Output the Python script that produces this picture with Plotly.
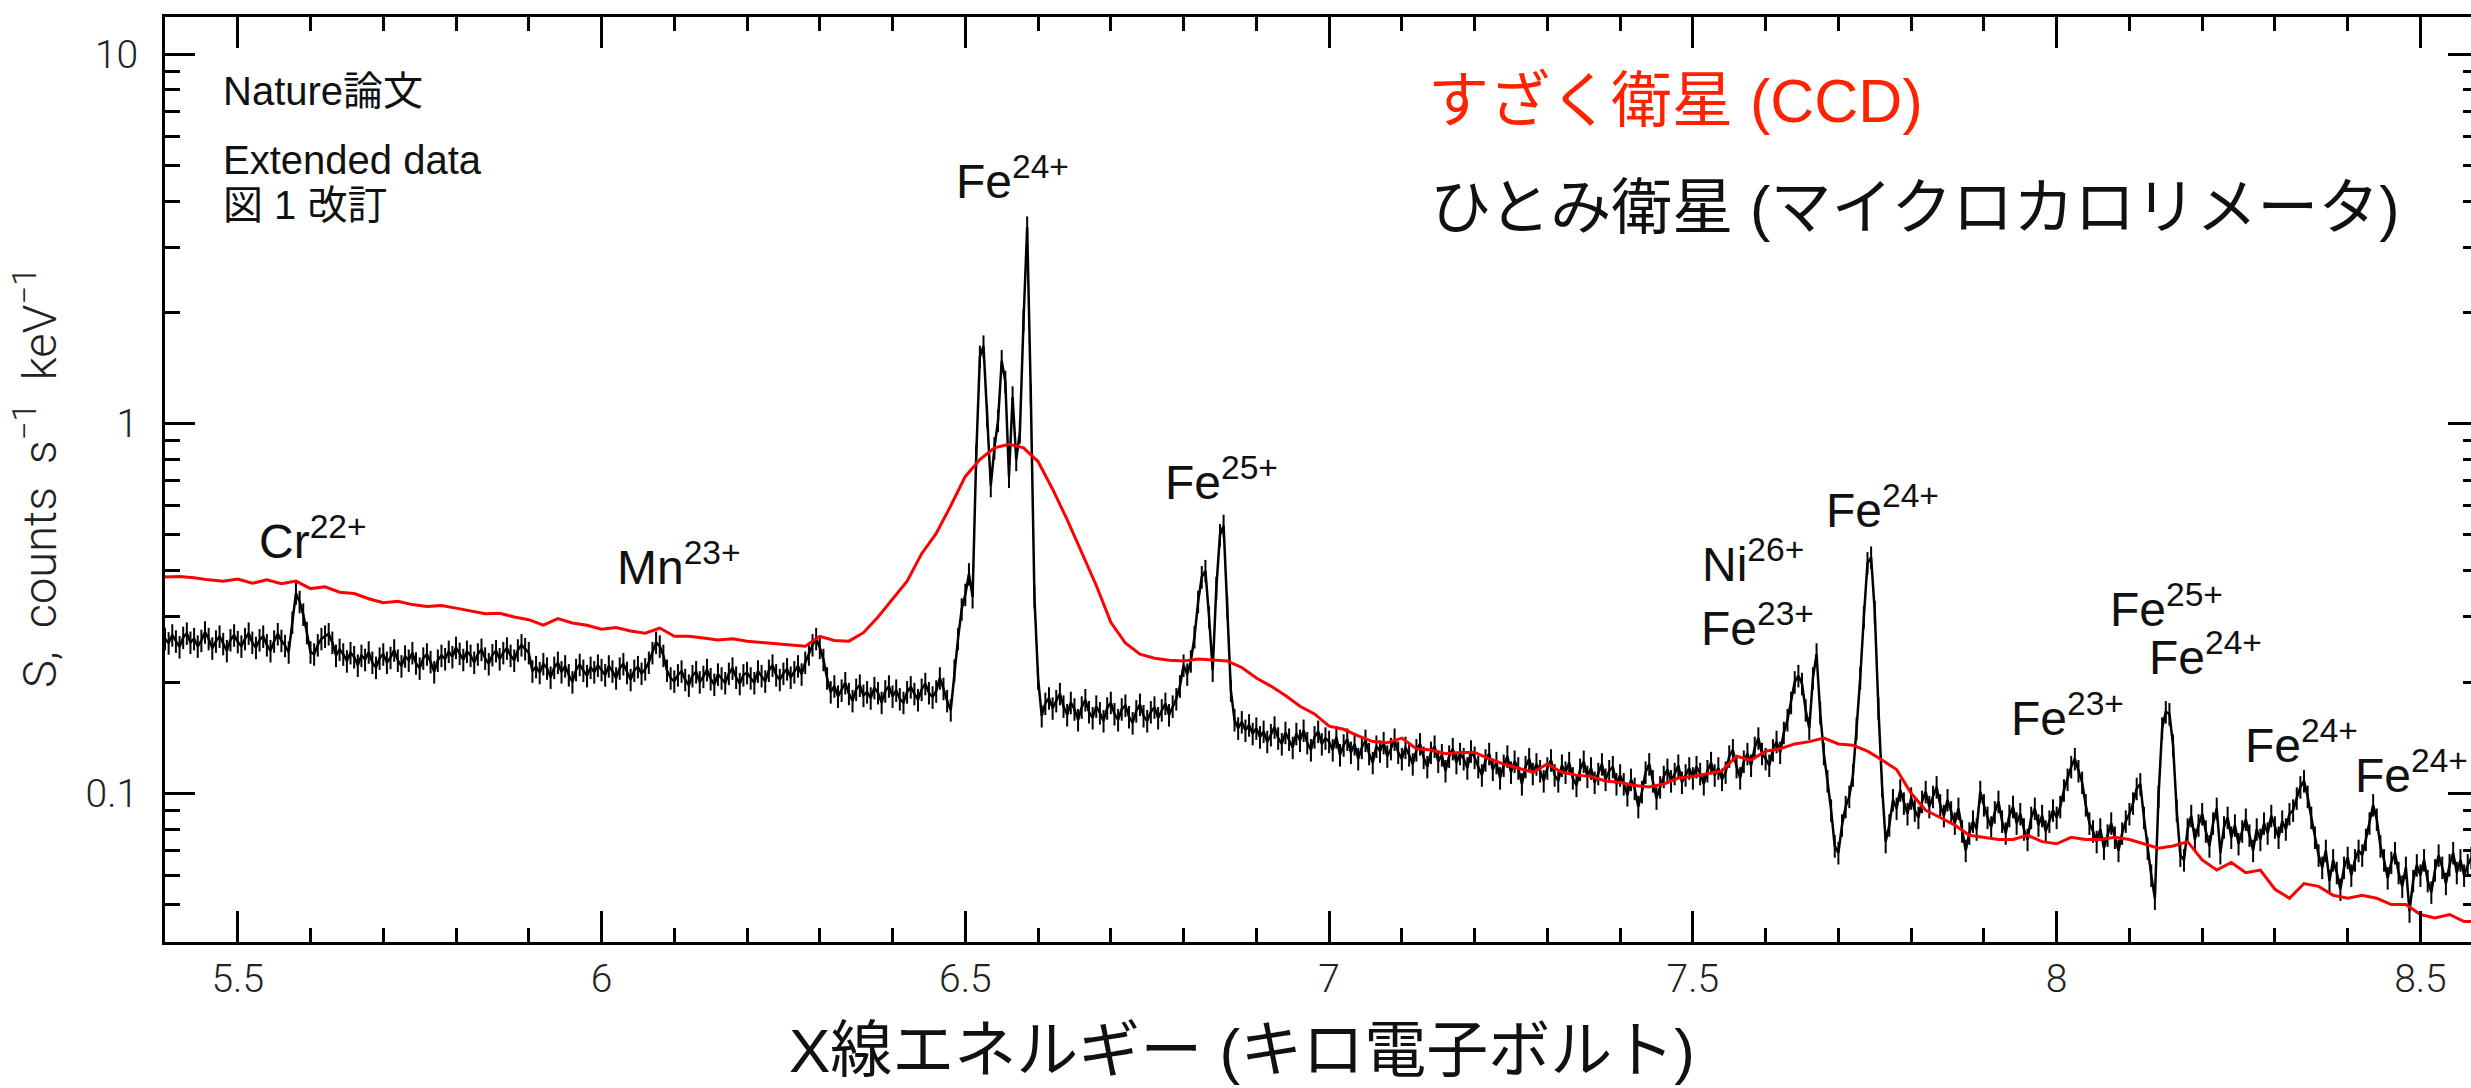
import math
import numpy as np
import plotly.graph_objects as go

# ---------------- data ----------------
# Hitomi (SXS microcalorimeter) spectrum, 5 eV bins starting at 5.400 keV
HITOMI_START, HITOMI_STEP = 5.400, 0.005
hitomi_5p4_6p2 = [
    0.262, 0.255, 0.268, 0.258, 0.249, 0.264, 0.271, 0.256, 0.262, 0.250, 0.259, 0.273, 0.262, 0.247, 0.258, 0.266, 0.254, 0.243, 0.260, 0.268,
    0.257, 0.250, 0.262, 0.271, 0.256, 0.248, 0.260, 0.266, 0.252, 0.243, 0.258, 0.270, 0.259, 0.251, 0.241, 0.290, 0.348, 0.330, 0.305, 0.272,
    0.241, 0.238, 0.252, 0.262, 0.266, 0.270, 0.256, 0.236, 0.245, 0.238, 0.228, 0.240, 0.234, 0.222, 0.236, 0.230, 0.241, 0.226, 0.219, 0.232,
    0.238, 0.226, 0.233, 0.244, 0.229, 0.221, 0.235, 0.229, 0.240, 0.225, 0.218, 0.232, 0.238, 0.227, 0.213, 0.229, 0.236, 0.231, 0.242, 0.234,
    0.248, 0.239, 0.230, 0.242, 0.236, 0.226, 0.238, 0.245, 0.232, 0.224, 0.237, 0.243, 0.231, 0.240, 0.247, 0.236, 0.229, 0.244, 0.252, 0.246,
    0.240, 0.214, 0.220, 0.212, 0.224, 0.218, 0.206, 0.219, 0.226, 0.213, 0.221, 0.209, 0.200, 0.216, 0.223, 0.215, 0.208, 0.219, 0.213, 0.222,
    0.216, 0.209, 0.221, 0.214, 0.205, 0.218, 0.224, 0.212, 0.203, 0.215, 0.220, 0.211, 0.217, 0.226, 0.240, 0.256, 0.250, 0.236, 0.215, 0.205,
    0.201, 0.209, 0.214, 0.203, 0.196, 0.208, 0.213, 0.200, 0.207, 0.216, 0.204, 0.197, 0.210, 0.205, 0.199, 0.211, 0.218, 0.206, 0.198, 0.209,
]
hitomi_6p2_7p0 = [
    0.212, 0.205, 0.199, 0.214, 0.208, 0.201, 0.215, 0.222, 0.209, 0.203, 0.211, 0.217, 0.206, 0.213, 0.221, 0.210, 0.226, 0.238, 0.252, 0.262,
    0.248, 0.230, 0.205, 0.188, 0.195, 0.183, 0.190, 0.199, 0.186, 0.178, 0.191, 0.196, 0.184, 0.188, 0.181, 0.193, 0.187, 0.176, 0.189, 0.195,
    0.183, 0.190, 0.180, 0.176, 0.188, 0.194, 0.186, 0.179, 0.191, 0.198, 0.187, 0.182, 0.189, 0.205, 0.192, 0.178, 0.168, 0.215, 0.262, 0.315,
    0.345, 0.392, 0.340, 0.820, 1.520, 1.620, 1.050, 0.680, 0.860, 1.020, 1.480, 1.300, 0.720, 1.180, 0.800, 0.950, 1.900, 3.400, 1.200, 0.340,
    0.205, 0.162, 0.175, 0.181, 0.170, 0.178, 0.186, 0.172, 0.163, 0.176, 0.169, 0.158, 0.171, 0.179, 0.166, 0.160, 0.172, 0.165, 0.157, 0.170,
    0.176, 0.164, 0.158, 0.169, 0.173, 0.161, 0.155, 0.167, 0.174, 0.162, 0.157, 0.166, 0.171, 0.160, 0.168, 0.175, 0.163, 0.172, 0.180, 0.195,
    0.222, 0.210, 0.228, 0.265, 0.330, 0.385, 0.400, 0.300, 0.215, 0.360, 0.500, 0.530, 0.320, 0.190, 0.158, 0.150, 0.156, 0.148, 0.153, 0.145,
    0.150, 0.142, 0.147, 0.138, 0.144, 0.151, 0.141, 0.136, 0.146, 0.140, 0.133, 0.145, 0.139, 0.148, 0.137, 0.131, 0.142, 0.147, 0.136, 0.141,
]
hitomi_7p0_7p8 = [
    0.138, 0.131, 0.142, 0.127, 0.135, 0.140, 0.129, 0.136, 0.124, 0.133, 0.139, 0.128, 0.121, 0.134, 0.130, 0.137, 0.126, 0.132, 0.140, 0.129,
    0.124, 0.133, 0.127, 0.120, 0.131, 0.136, 0.125, 0.118, 0.129, 0.134, 0.122, 0.127, 0.115, 0.126, 0.132, 0.121, 0.128, 0.124, 0.117, 0.130,
    0.125, 0.118, 0.112, 0.123, 0.128, 0.116, 0.121, 0.110, 0.119, 0.126, 0.114, 0.122, 0.117, 0.106, 0.118, 0.124, 0.113, 0.120, 0.115, 0.108,
    0.117, 0.123, 0.112, 0.108, 0.119, 0.114, 0.121, 0.110, 0.105, 0.116, 0.122, 0.111, 0.117, 0.107, 0.113, 0.120, 0.109, 0.115, 0.118, 0.106,
    0.112, 0.106, 0.099, 0.109, 0.103, 0.092, 0.101, 0.114, 0.120, 0.108, 0.097, 0.104, 0.111, 0.116, 0.108, 0.113, 0.119, 0.107, 0.112, 0.117,
    0.110, 0.118, 0.113, 0.106, 0.115, 0.121, 0.112, 0.117, 0.109, 0.114, 0.126, 0.131, 0.118, 0.110, 0.122, 0.128, 0.119, 0.133, 0.141, 0.128,
    0.124, 0.119, 0.131, 0.138, 0.129, 0.146, 0.158, 0.176, 0.200, 0.208, 0.198, 0.168, 0.150, 0.205, 0.238, 0.165, 0.128, 0.108, 0.090, 0.072,
    0.069, 0.082, 0.092, 0.098, 0.112, 0.150, 0.205, 0.300, 0.420, 0.435, 0.310, 0.170, 0.105, 0.074, 0.082, 0.096, 0.091, 0.102, 0.094, 0.088,
]
hitomi_7p8_8p6 = [
    0.097, 0.090, 0.086, 0.095, 0.101, 0.092, 0.098, 0.104, 0.093, 0.087, 0.096, 0.089, 0.083, 0.091, 0.079, 0.070, 0.078, 0.084, 0.080, 0.101,
    0.093, 0.086, 0.081, 0.089, 0.095, 0.084, 0.078, 0.087, 0.092, 0.083, 0.088, 0.080, 0.075, 0.086, 0.091, 0.082, 0.087, 0.079, 0.084, 0.090,
    0.086, 0.092, 0.102, 0.109, 0.118, 0.124, 0.115, 0.107, 0.093, 0.083, 0.079, 0.074, 0.080, 0.071, 0.077, 0.083, 0.076, 0.070, 0.078, 0.084,
    0.088, 0.094, 0.103, 0.106, 0.086, 0.071, 0.060, 0.052, 0.098, 0.150, 0.166, 0.164, 0.135, 0.090, 0.068, 0.066, 0.080, 0.087, 0.075, 0.082,
    0.088, 0.079, 0.072, 0.083, 0.091, 0.069, 0.081, 0.086, 0.076, 0.082, 0.073, 0.079, 0.085, 0.077, 0.070, 0.080, 0.075, 0.083, 0.078, 0.087,
    0.081, 0.076, 0.084, 0.080, 0.088, 0.090, 0.097, 0.104, 0.108, 0.098, 0.086, 0.076, 0.068, 0.063, 0.070, 0.058, 0.066, 0.061, 0.055, 0.063,
    0.067, 0.060, 0.066, 0.070, 0.068, 0.075, 0.083, 0.093, 0.085, 0.072, 0.066, 0.059, 0.065, 0.069, 0.061, 0.056, 0.063, 0.048, 0.058, 0.064,
    0.060, 0.066, 0.058, 0.054, 0.062, 0.068, 0.063, 0.057, 0.064, 0.069, 0.061, 0.066, 0.060, 0.064, 0.067, 0.062, 0.058, 0.065, 0.061, 0.063,
    0.060,
]

# Suzaku (XIS CCD) spectrum, 20 eV bins starting at 5.40 keV
SUZAKU_START, SUZAKU_STEP = 5.40, 0.02
suzaku_5p4_7p0 = [
    0.385, 0.386, 0.383, 0.378, 0.375,
    0.380, 0.370, 0.378, 0.369, 0.375,
    0.358, 0.362, 0.350, 0.347, 0.336,
    0.328, 0.331, 0.324, 0.320, 0.322,
    0.317, 0.312, 0.306, 0.307, 0.300,
    0.295, 0.285, 0.297, 0.289, 0.285,
    0.278, 0.281, 0.275, 0.271, 0.280,
    0.266, 0.266, 0.263, 0.260, 0.262,
    0.258, 0.256, 0.254, 0.252, 0.250,
    0.266, 0.259, 0.258, 0.272, 0.300,
    0.335, 0.375, 0.445, 0.505, 0.600,
    0.720, 0.800, 0.860, 0.880, 0.860,
    0.790, 0.665, 0.550, 0.450, 0.365,
    0.290, 0.255, 0.238, 0.232, 0.229,
    0.228, 0.231, 0.229, 0.228, 0.219,
    0.205, 0.195, 0.184, 0.172, 0.164,
]
suzaku_7p0_8p6 = [
    0.152, 0.149, 0.143, 0.138, 0.137,
    0.141, 0.132, 0.131, 0.128, 0.129,
    0.129, 0.124, 0.120, 0.117, 0.114,
    0.120, 0.114, 0.112, 0.111, 0.108,
    0.107, 0.105, 0.104, 0.106, 0.110,
    0.111, 0.113, 0.115, 0.126, 0.123,
    0.130, 0.132, 0.136, 0.138, 0.141,
    0.136, 0.135, 0.130, 0.123, 0.116,
    0.100, 0.090, 0.086, 0.082, 0.077,
    0.076, 0.075, 0.075, 0.077, 0.074,
    0.073, 0.076, 0.075, 0.075, 0.076,
    0.075, 0.073, 0.071, 0.072, 0.074,
    0.066, 0.062, 0.065, 0.061, 0.062,
    0.055, 0.052, 0.057, 0.056, 0.053,
    0.052, 0.053, 0.052, 0.050, 0.050,
    0.047, 0.046, 0.047, 0.045, 0.045,
    0.044,
]

x_tick_vals = [5.5, 6.0, 6.5, 7.0, 7.5, 8.0, 8.5]
x_tick_text = ["5.5", "6", "6.5", "7", "7.5", "8", "8.5"]
y_tick_vals = [0.1, 1, 10]
y_tick_text = ["0.1", "1", "10"]
y_minor_vals = [0.05, 0.06, 0.07, 0.08, 0.09,
                0.2, 0.3, 0.4, 0.5, 0.6, 0.7, 0.8, 0.9,
                2, 3, 4, 5, 6, 7, 8, 9]

# peak labels: element, charge, energy (keV), height (counts/s/keV)
peak_labels = [
    ("Cr", "22+", 5.604, 0.49),
    ("Mn", "23+", 6.107, 0.417),
    ("Fe", "24+", 6.565, 4.62),
    ("Fe", "25+", 6.852, 0.708),
    ("Ni", "26+", 7.583, 0.425),
    ("Fe", "23+", 7.589, 0.285),
    ("Fe", "24+", 7.761, 0.595),
    ("Fe", "25+", 8.151, 0.321),
    ("Fe", "24+", 8.204, 0.238),
    ("Fe", "23+", 8.015, 0.1627),
    ("Fe", "24+", 8.336, 0.1376),
    ("Fe", "24+", 8.488, 0.114),
]

# ---------------- assemble ----------------
hitomi_flux = hitomi_5p4_6p2 + hitomi_6p2_7p0 + hitomi_7p0_7p8 + hitomi_7p8_8p6
hitomi_energy = np.round(HITOMI_START + HITOMI_STEP * np.arange(len(hitomi_flux)), 4)
suzaku_flux = suzaku_5p4_7p0 + suzaku_7p0_8p6
suzaku_energy = np.round(SUZAKU_START + SUZAKU_STEP * np.arange(len(suzaku_flux)), 4)

W, H = 2471, 1088
ML, MR, MT, MB = 165, 0, 17, 146
PW, PH = W - ML - MR, H - MT - MB

X_RANGE = [5.4, 8.5695]
Y_RANGE = [math.log10(0.0396), math.log10(12.6)]

LATIN = "Liberation Sans, Arial, Helvetica, sans-serif"
TICKF = "Roboto, Liberation Sans, Arial, sans-serif"
JP = "Liberation Sans, Noto Sans CJK JP, sans-serif"
INK = "#111111"


def px(xp):
    return (xp - ML) / PW


def py(yp):
    return (H - MB - yp) / PH


fig = go.Figure()

fig.add_trace(go.Scatter(
    x=hitomi_energy, y=hitomi_flux, mode="lines",
    line=dict(color="black", width=2.5),
    error_y=dict(type="percent", value=7, thickness=2, width=0, color="black"),
    showlegend=False, hoverinfo="skip",
))
fig.add_trace(go.Scatter(
    x=suzaku_energy, y=suzaku_flux, mode="lines",
    line=dict(color="#ff0000", width=3),
    showlegend=False, hoverinfo="skip",
))
# empty trace that carries the right-hand tick axis
fig.add_trace(go.Scatter(x=[None], y=[None], yaxis="y2", showlegend=False, hoverinfo="skip"))

annotations = []
for el, ch, e, v in peak_labels:
    annotations.append(dict(
        x=e, y=math.log10(v), xref="x", yref="y",
        text=f"{el}<sup>{ch}</sup>", showarrow=False,
        xanchor="center", yanchor="middle",
        font=dict(family=LATIN, size=48, color=INK),
    ))

# corner notes
annotations += [
    dict(x=px(221), y=py(91), xref="paper", yref="paper", text="Nature論文",
         showarrow=False, xanchor="left", yanchor="middle",
         font=dict(family=JP, size=40, color=INK)),
    dict(x=px(221), y=py(160), xref="paper", yref="paper", text="Extended data",
         showarrow=False, xanchor="left", yanchor="middle",
         font=dict(family=JP, size=40, color=INK)),
    dict(x=px(221), y=py(205), xref="paper", yref="paper", text="図 1 改訂",
         showarrow=False, xanchor="left", yanchor="middle",
         font=dict(family=JP, size=40, color=INK)),
    dict(x=px(1426), y=py(101), xref="paper", yref="paper", text="すざく衛星 (CCD)",
         showarrow=False, xanchor="left", yanchor="middle",
         font=dict(family=JP, size=61, color="#ff2200")),
    dict(x=px(1428), y=py(208), xref="paper", yref="paper",
         text="ひとみ衛星 (マイクロカロリメータ)",
         showarrow=False, xanchor="left", yanchor="middle",
         font=dict(family=JP, size=61, color=INK)),
    # axis titles
    dict(x=px(1242), y=py(1087), xref="paper", yref="paper",
         text="X線エネルギー (キロ電子ボルト)",
         showarrow=False, xanchor="center", yanchor="bottom",
         font=dict(family=JP, size=62, color=INK)),
    dict(x=px(36), y=py(478), xref="paper", yref="paper",
         text="S,\u00a0\u00a0counts\u00a0\u00a0s<sup>\u22121</sup>\u00a0\u00a0keV<sup>\u22121</sup>",
         textangle=-90, showarrow=False, xanchor="center", yanchor="middle",
         font=dict(family=TICKF, size=47, color="#222222", weight=300)),
]

axis_common = dict(showgrid=False, zeroline=False, linecolor="black", tickcolor="black")

fig.update_layout(
    width=W, height=H, autosize=False,
    margin=dict(l=ML, r=MR, t=MT, b=MB, pad=0),
    paper_bgcolor="white", plot_bgcolor="white",
    showlegend=False,
    xaxis=dict(
        **axis_common, range=X_RANGE, showline=True, linewidth=3, mirror="ticks",
        ticks="inside", ticklen=31, tickwidth=2.5,
        tickmode="array", tickvals=x_tick_vals, ticktext=x_tick_text,
        tickfont=dict(family=TICKF, size=39, color="#222222", weight=300),
        ticklabelstandoff=0,
        minor=dict(tickmode="linear", tick0=5.4, dtick=0.1, ticks="inside",
                   ticklen=14, tickwidth=2.5, tickcolor="black", showgrid=False),
        automargin=False,
    ),
    yaxis=dict(
        **axis_common, type="log", range=Y_RANGE, showline=True, linewidth=3, mirror=False,
        ticks="inside", ticklen=30, tickwidth=2.5,
        tickmode="array", tickvals=y_tick_vals, ticktext=y_tick_text,
        tickfont=dict(family=TICKF, size=39, color="#222222", weight=300),
        ticklabelstandoff=16,
        minor=dict(tickmode="array", tickvals=y_minor_vals, ticks="inside",
                   ticklen=15, tickwidth=2.5, tickcolor="black", showgrid=False),
        automargin=False,
    ),
    yaxis2=dict(
        **axis_common, type="log", range=Y_RANGE, overlaying="y", side="right", anchor="x",
        showline=False, showticklabels=False,
        ticks="inside", ticklen=23, tickwidth=2.5,
        tickmode="array", tickvals=y_tick_vals,
        minor=dict(tickmode="array", tickvals=y_minor_vals, ticks="inside",
                   ticklen=8, tickwidth=2.5, tickcolor="black", showgrid=False),
        automargin=False,
    ),
    annotations=annotations,
)

fig.write_html("out.html", config={"displayModeBar": False})
